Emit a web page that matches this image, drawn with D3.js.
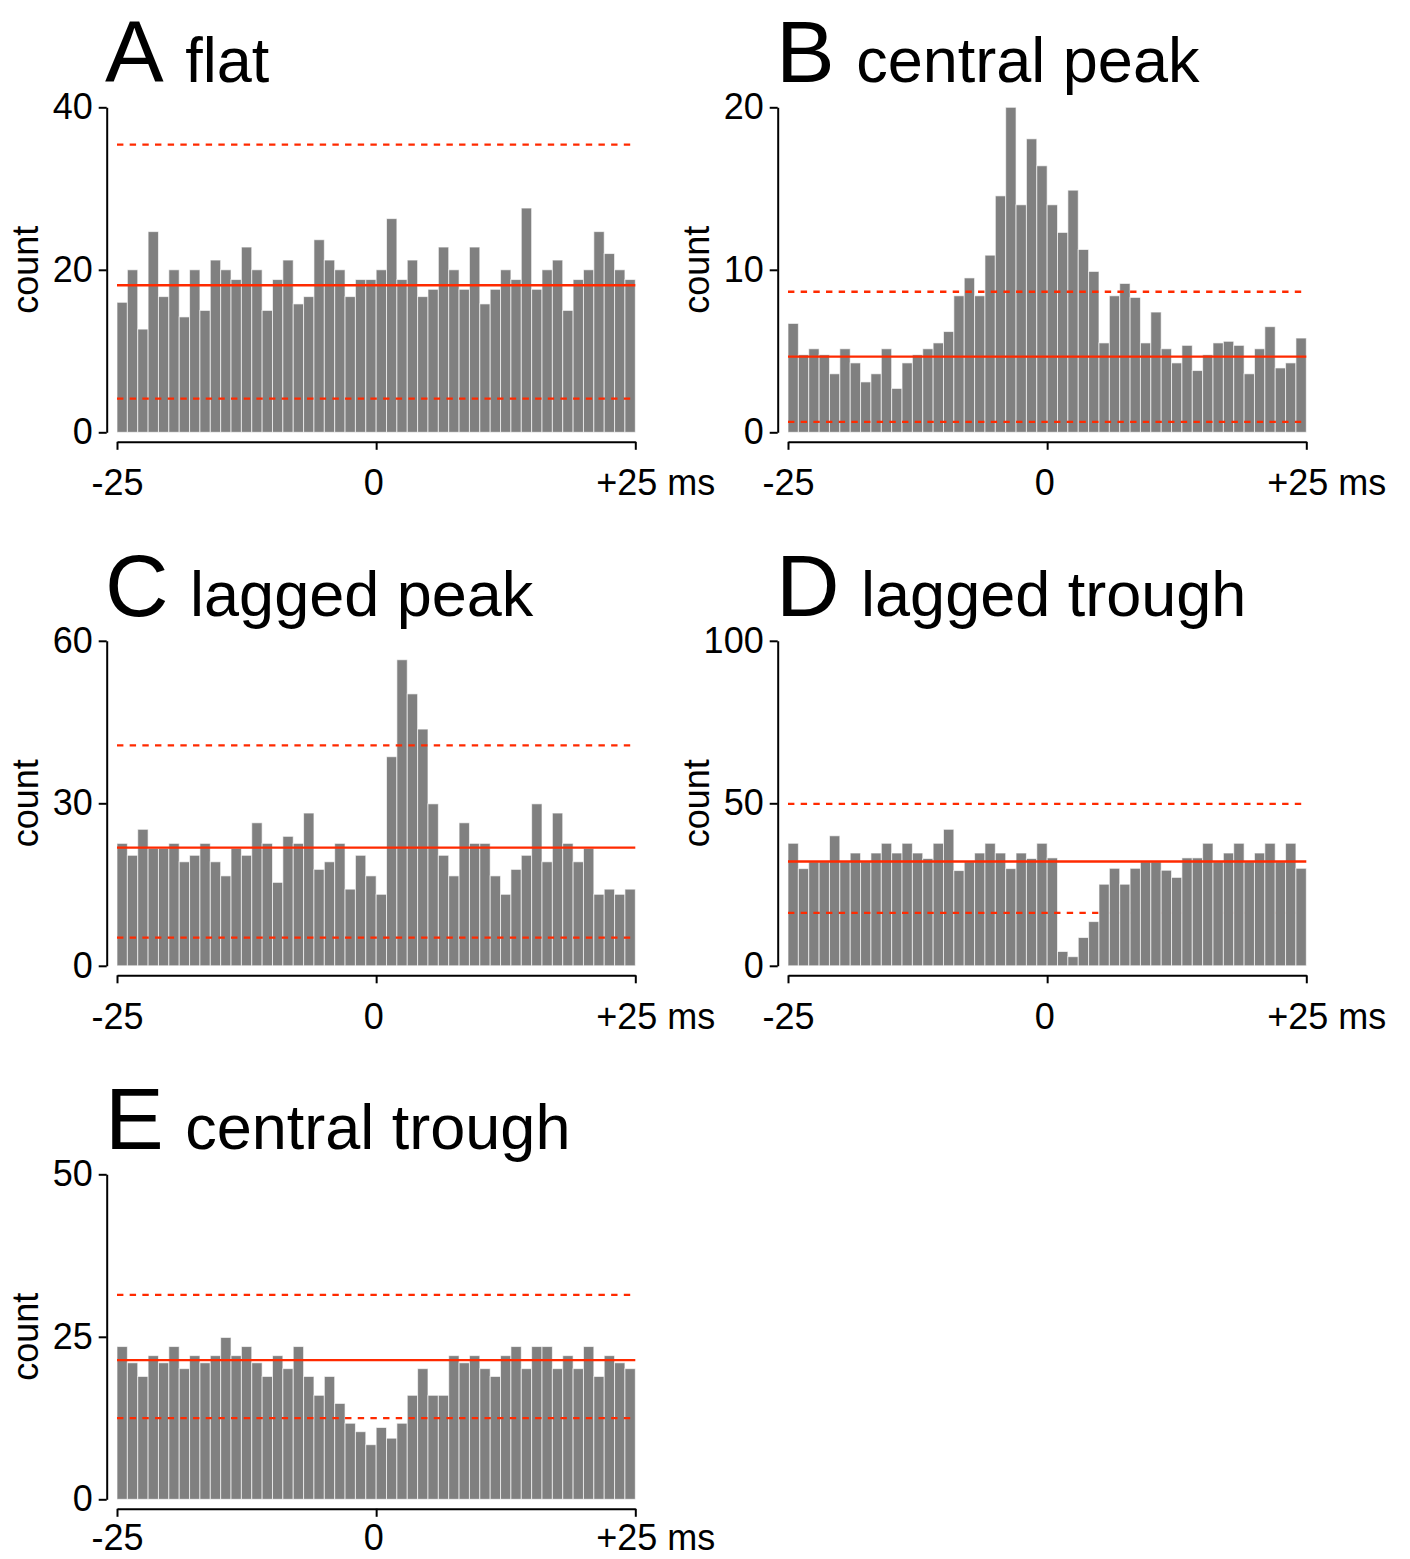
<!DOCTYPE html>
<html>
<head>
<meta charset="utf-8">
<script src="https://cdn.jsdelivr.net/npm/d3@7"></script>
<style>
  html, body { margin: 0; padding: 0; background: #ffffff; }
  svg { display: block; }
  text { font-family: "Liberation Sans", Arial, Helvetica, sans-serif; fill: #000; }
</style>
</head>
<body>
<svg id="chart" width="1410" height="1559"></svg>
<script>
// ---------- data ----------
const panelLetters = ["A", "B", "C", "D", "E"];
const panelTitles = ["flat", "central peak", "lagged peak", "lagged trough", "central trough"];

const countsA = [16,20,12.7,24.7,16.7,20,14.2,20,15,21.2, 20,18.8,22.8,20,15,18.8,21.2,15.8,16.7,23.7,
  21.2,20,16.7,18.8,18.8,20,26.3,18.8,21.2,16.7, 17.6,22.8,20,17.6,22.8,15.8,17.6,20,18.8,27.6,
  17.6,20,21.2,15,18.8,20,24.7,22,20,18.8];
const countsB = [6.7,4.77,5.14,4.77,3.6,5.14,4.27,3.1,3.6,5.14, 2.7,4.27,4.77,5.14,5.5,6.2,8.4,9.5,8.4,10.9,
  14.55,20,14,18.06,16.4,14,12.3,14.9,11.25,9.9, 5.5,8.4,9.16,8.3,5.5,7.4,5.14,4.27,5.35,3.8,
  4.77,5.5,5.6,5.35,3.6,5.14,6.5,3.96,4.27,5.8];
const countsC = [22.6,20.4,25.2,21.7,21.7,22.6,19.2,20.4,22.6,19.2, 16.6,21.7,20.4,26.4,22.6,15.4,23.9,22.6,28.2,17.8,
  19.2,22.6,14.15,20.4,16.6,13.2,38.6,56.5,50.2,43.7, 29.9,20.4,16.6,26.4,22.6,22.6,16.6,13.2,17.8,20.4,
  29.9,19.2,28.2,22.6,19.2,21.7,13.2,14.15,13.2,14.15];
const countsD = [37.7,29.9,32,32,40,32,34.7,32,34.7,37.7, 34.7,37.7,34.7,33,37.7,42,29.3,32,34.7,37.7,
  34.7,29.9,34.7,33,37.7,33.2,4.4,2.8,8.7,13.6, 25.1,30,25.1,30,32,32,29.4,27.2,33.2,33.2,
  37.7,32,34.7,37.7,32,34.7,37.7,32,37.7,30];
const countsE = [23.5,21,18.9,22.1,21,23.5,20.1,22.1,21,22.1, 24.9,22.1,23.5,21,18.9,22.1,20.1,23.5,18.9,16,
  18.9,14.75,11.7,10.4,8.4,11.05,9.4,11.7,16,20.1, 16,16,22.1,21,22.1,20.1,18.9,22.1,23.5,20.1,
  23.5,23.5,20.1,22.1,20.1,23.5,18.9,22.1,21,20.1];

const meanLevels  = [18.1, 4.66, 21.8, 32.1, 21.4];
const upperLevels = [35.4, 8.65, 40.7, 49.8, 31.45];
const lowerLevels = [4.14, 0.64, 5.2, 16.3, 12.5];

const yMaxes = [40, 20, 60, 100, 50];
const yTickValues = [[0,20,40],[0,10,20],[0,30,60],[0,50,100],[0,25,50]];
const xTickValues = [-25, 0, 25];
const xTickLabels = ["-25", "0", "+25 ms"];
const binStart = -25, binWidth = 1;

const allCounts = [countsA, countsB, countsC, countsD, countsE];

// ---------- layout ----------
const svg = d3.select("#chart");
const colOffset = 671;
const rowOffset = 533.5;
const plotLeft = 117, plotRight = 635.3;
const plotBase = 432.3, plotHeight = 325;
const red = "#ff2a00";

allCounts.forEach((counts, p) => {
  const col = p % 2, row = Math.floor(p / 2);
  const ox = col * colOffset, oy = row * rowOffset;
  const base = plotBase + oy;
  const x = d3.scaleLinear().domain([-25, 25]).range([plotLeft + ox, plotRight + ox]);
  const y = d3.scaleLinear().domain([0, yMaxes[p]]).range([base, base - plotHeight]);
  const g = svg.append("g");

  const bins = counts.map((c, i) => ({ x0: binStart + i * binWidth, x1: binStart + (i + 1) * binWidth, c, i }));

  const drawBars = (sel, data) => sel.selectAll("rect").data(data).enter().append("rect")
      .attr("x", d => x(d.x0))
      .attr("y", d => y(d.c))
      .attr("width", d => x(d.x1) - x(d.x0))
      .attr("height", d => y(0) - y(d.c))
      .attr("fill", "#808080")
      .attr("stroke", "#ffffff")
      .attr("stroke-opacity", 0.65)
      .attr("stroke-width", 1);

  const quirk = (p === 3); // lower line partly hidden behind right-half bars in panel D
  const barsFirst = g.append("g");
  drawBars(barsFirst, quirk ? bins.filter(d => d.i < 26) : bins);

  const hline = (val, dashed) => {
    const l = g.append("line")
      .attr("x1", x(-25)).attr("x2", x(25))
      .attr("y1", y(val)).attr("y2", y(val))
      .attr("stroke", red).attr("stroke-width", 2.3);
    if (dashed) l.attr("stroke-dasharray", "6.4,6.27");
  };
  hline(lowerLevels[p], true);
  if (quirk) {
    const barsSecond = g.append("g");
    drawBars(barsSecond, bins.filter(d => d.i >= 26));
  }
  hline(upperLevels[p], true);
  hline(meanLevels[p], false);

  // y axis
  const yAxis = g.append("g")
    .attr("transform", `translate(${plotLeft + ox - 10.3},0)`)
    .call(d3.axisLeft(y).tickValues(yTickValues[p]).tickSize(8).tickSizeOuter(0).tickPadding(6).tickFormat(d3.format("d")));
  // x axis
  const xPad = row === 2 ? 8 : 20;
  const xAxis = g.append("g")
    .attr("transform", `translate(0,${base + 9.5})`)
    .call(d3.axisBottom(x).tickValues(xTickValues).tickSize(8).tickSizeOuter(0).tickPadding(xPad)
      .tickFormat((d, i) => xTickLabels[i]));
  [yAxis, xAxis].forEach(a => {
    a.select(".domain").attr("stroke", "#000").attr("stroke-width", 2);
    a.selectAll(".tick line").attr("stroke", "#000").attr("stroke-width", 2);
    a.selectAll(".tick text").attr("font-size", 36)
      .style("font-family", '"Liberation Sans", Arial, Helvetica, sans-serif').attr("fill", "#000");
  });
  xAxis.selectAll(".tick text").filter((d, i) => i === 2).attr("dx", 20);
  xAxis.selectAll(".tick text").filter((d, i) => i === 1).attr("dx", -3);

  // y label
  g.append("text")
    .attr("transform", `translate(${38 + ox},${base - plotHeight / 2}) rotate(-90)`)
    .attr("text-anchor", "middle")
    .attr("font-size", 36)
    .text("count");

  // title
  const t = g.append("text")
    .attr("x", 105 + ox)
    .attr("y", 82 + oy);
  t.append("tspan").attr("font-size", 88).text(panelLetters[p]);
  t.append("tspan").attr("font-size", 63).attr("dx", 4).text(" " + panelTitles[p]);
});
</script>
</body>
</html>
